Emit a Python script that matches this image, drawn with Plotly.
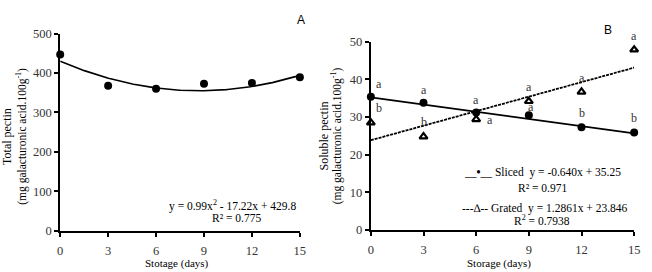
import numpy as np
import plotly.graph_objects as go

# ---------------- data ----------------
days = [0, 3, 6, 9, 12, 15]
total_pectin = [447, 368, 360, 373, 375, 389]
total_fit = [0.99, -17.22, 429.8]  # quadratic coefficients a, b, c

sliced = [35.4, 33.8, 31.2, 30.5, 27.3, 25.9]
grated = [28.5, 24.8, 29.4, 34.2, 36.7, 47.9]
sliced_fit = [-0.640, 35.25]
grated_fit = [1.2861, 23.846]
sliced_letters = ["a", "a", "a", "a", "b", "b"]
grated_letters = ["b", "b", "a", "a", "a", "a"]

x_ticks = [0, 3, 6, 9, 12, 15]
y_ticks_A = [0, 100, 200, 300, 400, 500]
y_ticks_B = [0, 10, 20, 30, 40, 50]

W, H = 652, 272
def px(x):
    return x / W
def py(y):
    return 1 - y / H

FONT = "Liberation Serif"
fig = go.Figure()

xs = np.linspace(0, 15, 200)
# ----- panel A -----
fig.add_trace(go.Scatter(x=xs, y=total_fit[0] * xs**2 + total_fit[1] * xs + total_fit[2],
                         mode="lines", line=dict(color="black", width=1.6),
                         xaxis="x", yaxis="y", showlegend=False, hoverinfo="skip"))
fig.add_trace(go.Scatter(x=days, y=total_pectin, mode="markers",
                         marker=dict(symbol="circle", size=8, color="black"),
                         xaxis="x", yaxis="y", showlegend=False, cliponaxis=False))

# ----- panel B -----
xl = np.array([0, 15])
fig.add_trace(go.Scatter(x=xl, y=sliced_fit[0] * xl + sliced_fit[1], mode="lines",
                         line=dict(color="black", width=1.8),
                         xaxis="x2", yaxis="y2", showlegend=False))
fig.add_trace(go.Scatter(x=xl, y=grated_fit[0] * xl + grated_fit[1], mode="lines",
                         line=dict(color="black", width=1.8, dash="3px,1px"),
                         xaxis="x2", yaxis="y2", showlegend=False))
fig.add_trace(go.Scatter(x=days, y=sliced, mode="markers",
                         marker=dict(symbol="circle", size=8, color="black"),
                         xaxis="x2", yaxis="y2", showlegend=False, cliponaxis=False))
fig.add_trace(go.Scatter(x=days, y=grated, mode="markers",
                         marker=dict(symbol="triangle-up-open", size=7, color="black",
                                     line=dict(width=2.2, color="black")),
                         xaxis="x2", yaxis="y2", showlegend=False, cliponaxis=False))

# letter offsets (px) for each point: (xshift, yshift)
sliced_shift = [(8, 13), (0, 13), (0, 13), (2, 8), (0, 14), (0, 14)]
grated_shift = [(8, 15), (0, 15), (14, -1), (0, 14), (0, 14), (0, 14)]

ann = []
for d, v, t, (dx, dy) in zip(days, sliced, sliced_letters, sliced_shift):
    ann.append(dict(x=d, y=v, xref="x2", yref="y2", text=t, showarrow=False,
                    xshift=dx, yshift=dy, font=dict(family=FONT, size=12, color="#333")))
for d, v, t, (dx, dy) in zip(days, grated, grated_letters, grated_shift):
    ann.append(dict(x=d, y=v, xref="x2", yref="y2", text=t, showarrow=False,
                    xshift=dx, yshift=dy, font=dict(family=FONT, size=12, color="#333")))

def txt(x, y, s, size=12, family=FONT, angle=0):
    ann.append(dict(x=px(x), y=py(y), xref="paper", yref="paper", text=s,
                    showarrow=False, textangle=angle, xanchor="center", yanchor="middle",
                    font=dict(family=family, size=size, color="black")))

txt(233, 209, "y = 0.99x<sup>2</sup> - 17.22x + 429.8", 11.5)
txt(237, 222, "R² = 0.775", 11.5)
txt(547, 175, "__<b>•</b>__ Sliced  y = -0.640x + 35.25", 11.5)
txt(547, 191, "R² = 0.971", 11.5)
txt(550, 212, "---∆-- Grated  y = 1.2861x + 23.846", 11.5)
txt(547, 225, "R<sup>2</sup> = 0.7938", 11.5)
txt(302, 14, "A", 12, "Liberation Sans")
txt(613, 24, "B", 12, "Liberation Sans")
txt(176, 270, "Stotage (days)", 11)
txt(503, 270, "Storage (days)", 11)
txt(4, 136, "Total pectin", 12, angle=-90)
txt(18, 136, "(mg galacturonic acid.100g<sup>-1</sup>)", 11.5, angle=-90)
txt(325, 136, "Soluble pectin", 12, angle=-90)
txt(338, 136, "(mg galacturonic acid.100g<sup>-1</sup>)", 11.5, angle=-90)

axis_common = dict(showline=True, linecolor="black", linewidth=2, ticks="outside",
                   ticklen=4, tickwidth=1.5, tickcolor="black", showgrid=False,
                   zeroline=False, tickfont=dict(family=FONT, size=12.5, color="#333"))
xstand = dict(ticklabelstandoff=3)

fig.update_layout(
    width=W, height=H, margin=dict(l=0, r=0, t=0, b=0),
    plot_bgcolor="white", paper_bgcolor="white",
    xaxis=dict(domain=[px(58), px(301)], range=[0, 15], tickvals=x_ticks, anchor="y", **axis_common, **xstand),
    yaxis=dict(domain=[py(236), py(28)], range=[0, 500], tickvals=y_ticks_A, anchor="x", **axis_common),
    xaxis2=dict(domain=[px(373), px(640)], range=[0, 15], tickvals=x_ticks, anchor="y2", **axis_common, **xstand),
    yaxis2=dict(domain=[py(235), py(36.7)], range=[0, 50], tickvals=y_ticks_B, anchor="x2", **axis_common),
    annotations=ann,
)

fig.write_html("out.html")
